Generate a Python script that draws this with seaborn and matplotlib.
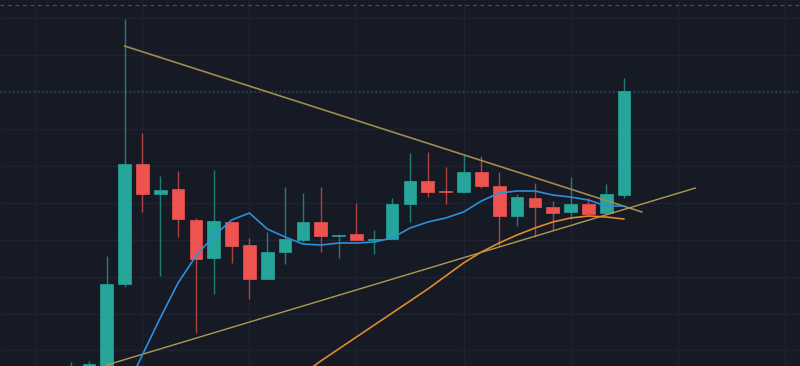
import matplotlib
matplotlib.use("Agg")
import matplotlib.pyplot as plt
import seaborn as sns
import pandas as pd
import numpy as np

# ---- data (bar index, OHLC) ----
bars = list(range(32))
opens  = [33, 33, 20, 116, 236, 206, 211, 180, 142, 178, 155, 121, 148, 160, 178, 164,
          166, 160, 161, 196, 219, 209, 208, 228, 214, 184, 202, 193, 188, 196, 187, 205]
closes = [34, 36, 116, 236, 206, 210, 181, 141, 179, 154, 121, 148, 161, 178, 164, 165,
          160, 161, 196, 219, 208, 208, 228, 214, 184, 203, 193, 187, 196, 186, 206, 309]
highs  = [38, 39, 144, 381, 267, 224, 229, 182, 230, 178, 162, 168, 213, 207, 213, 166,
          197, 170, 202, 247, 248, 233, 245, 244, 228, 206, 217, 199, 223, 202, 216, 322]
lows   = [28, 31, 15, 113, 188, 124, 163, 67, 106, 137, 101, 121, 136, 158, 148, 142,
          160, 146, 161, 178, 203, 196, 208, 212, 154, 174, 163, 170, 181, 186, 187, 202]

# short moving average (blue), bars 3..31
ma_fast_bars = list(range(3, 32))
ma_fast = [8, 45, 82, 117, 144, 164, 180, 187, 171, 163, 156, 155, 157, 157, 158, 162,
           172, 178, 182, 188, 199, 207, 209, 209, 205, 203, 200, 194, 194]

# long moving average (orange), bars 13..31
ma_slow_bars = list(range(13, 32))
ma_slow = [26, 39, 51, 63, 75, 87, 99, 111, 124, 137, 148, 157, 165, 172, 178, 182, 184, 183, 181]

# trendlines (endpoints)
upper_tl_x = [3, 32]
upper_tl_y = [354, 188]
lower_tl_x = [2, 35]
lower_tl_y = [35, 212]

last_price = 309

BG = "#161a25"
UP = "#26a69a"
DOWN = "#ef5350"

sns.set_theme(style="dark")
fig = plt.figure(figsize=(8, 3.66), dpi=100)
fig.patch.set_facecolor(BG)
ax = fig.add_axes([0, 0, 1, 1])
ax.set_facecolor(BG)

ax.set_xlim(-3.98, 40.86)
ax.set_ylim(34, 400)

# grid
for gx in range(-2, 41, 6):
    ax.axvline(gx, color="#1f2330", lw=0.9, zorder=0)
for k in range(10):
    ax.axhline(381.7 - 36.9 * k, color="#1f2330", lw=0.9, zorder=0)

# top dashed separator and last price line
ax.axhline(395, color="#4a4e59", lw=0.9, ls=(0, (3, 3)), zorder=1)
ax.axhline(last_price, color=UP, lw=1.0, ls=(0, (1, 2)), alpha=0.45, zorder=1)

df = pd.DataFrame({"bar": bars, "open": opens, "close": closes, "high": highs, "low": lows})
df["up"] = df["close"] >= df["open"]
colors = [UP if u else DOWN for u in df["up"]]

# wicks
ax.vlines(df["bar"], df["low"], df["high"], colors=colors, lw=1.0, alpha=0.7, zorder=2)
# bodies
body_bottom = np.minimum(df["open"], df["close"])
body_h = np.maximum(np.abs(df["close"] - df["open"]), 1.5)
ax.bar(df["bar"], body_h, bottom=body_bottom, width=0.71, color=colors, edgecolor=colors,
       lw=0.5, zorder=3)

# trendlines
sns.lineplot(x=upper_tl_x, y=upper_tl_y, ax=ax, color="#a08c4e", lw=1.2, zorder=4)
sns.lineplot(x=lower_tl_x, y=lower_tl_y, ax=ax, color="#b09a52", lw=1.0, zorder=4)

# moving averages
sns.lineplot(x=ma_fast_bars, y=ma_fast, ax=ax, color="#2d8fdc", lw=1.2, zorder=5)
sns.lineplot(x=ma_slow_bars, y=ma_slow, ax=ax, color="#e08a2c", lw=1.2, zorder=5)

ax.set_xticks([])
ax.set_yticks([])
ax.set_xlabel("")
ax.set_ylabel("")
for s in ax.spines.values():
    s.set_visible(False)

fig.savefig("out.png", dpi=100, facecolor=BG)
